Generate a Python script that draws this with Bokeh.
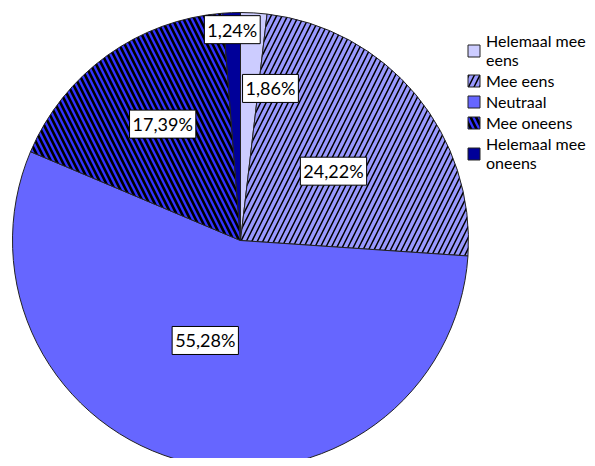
import math
from bokeh.plotting import figure
from bokeh.models import Label, Legend, LegendItem, Range1d
from bokeh.embed import file_html
from bokeh.resources import INLINE

categories = ["Helemaal mee eens", "Mee eens", "Neutraal", "Mee oneens", "Helemaal mee oneens"]
legend_labels = ["Helemaal mee\neens", "Mee eens", "Neutraal", "Mee oneens", "Helemaal mee\noneens"]
percentages = [1.86, 24.22, 55.28, 17.39, 1.24]
label_texts = ["1,86%", "24,22%", "55,28%", "17,39%", "1,24%"]

colors = ["#CCCCFF", "#9999FF", "#6666FF", "#3333FF", "#000099"]
hatches = [" ", "/", " ", "\\", " "]
hatch_weights = [1, 1.5, 1, 2.6, 1]

W, H = 587, 458
cx, cy, R = 240, H - 240, 228
# label placement (radius in px, angle shift in degrees clockwise)
label_r = [155, 116, 106, 140, 211]
label_shift = [7.8, 3.0, 6.0, 2.0, 0.0]

total = sum(percentages)
starts, ends, lx, ly = [], [], [], []
acc = 0.0
for i, v in enumerate(percentages):
    a0 = math.pi / 2 - 2 * math.pi * acc / total
    acc += v
    a1 = math.pi / 2 - 2 * math.pi * acc / total
    starts.append(a0)
    ends.append(a1)
    mid = (a0 + a1) / 2 - math.radians(label_shift[i])
    lx.append(cx + label_r[i] * math.cos(mid))
    ly.append(cy + label_r[i] * math.sin(mid))

p = figure(width=W, height=H, output_backend="svg", toolbar_location=None,
           x_range=Range1d(0, W), y_range=Range1d(0, H), min_border=0)
p.axis.visible = False
p.grid.visible = False
p.outline_line_color = None

items = []
for i in range(len(percentages)):
    r = p.wedge(x=cx, y=cy, radius=R, start_angle=starts[i], end_angle=ends[i],
                direction="clock", fill_color=colors[i], line_color="#222222", line_width=1,
                hatch_pattern=hatches[i], hatch_color="black", hatch_scale=11,
                hatch_weight=hatch_weights[i])
    items.append(LegendItem(label=legend_labels[i], renderers=[r]))

for i in range(len(percentages)):
    lab = Label(x=lx[i], y=ly[i], text=label_texts[i], text_align="center",
                text_baseline="middle", text_font="Lato", text_font_size="18px",
                text_color="black", background_fill_color="white",
                border_line_color="black", border_line_width=1, padding=3)
    p.add_layout(lab)

legend = Legend(items=items, background_fill_alpha=0,
                border_line_color=None, label_text_font="Lato",
                label_text_font_size="16px", label_text_line_height=1.0,
                label_text_color="black",
                glyph_width=15, glyph_height=15,
                spacing=2, padding=0, label_standoff=5, label_height=17)
legend.margin = 0
legend.location = (466, H - 172)
p.add_layout(legend)

open("out.html", "w").write(file_html(p, INLINE))
